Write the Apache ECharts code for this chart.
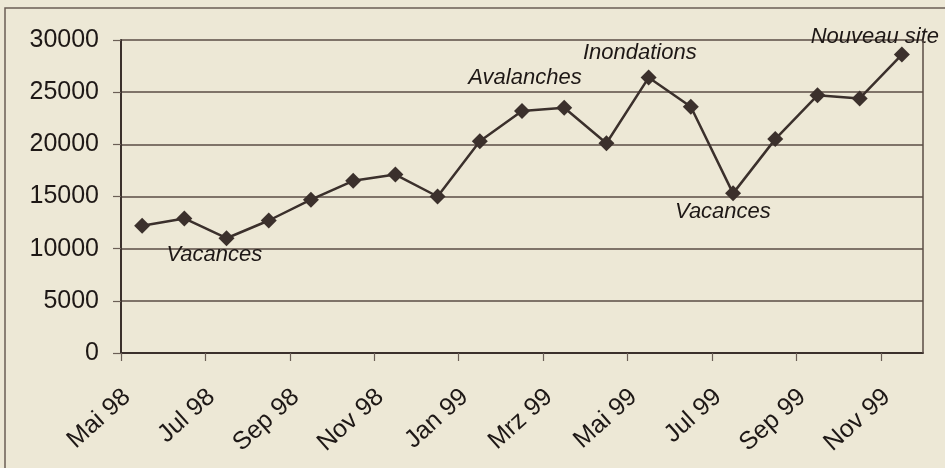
<!DOCTYPE html>
<html>
<head>
<meta charset="utf-8">
<style>
  html, body { margin: 0; padding: 0; background: #ede8d6; }
  #chart { width: 945px; height: 468px; }
</style>
<script src="https://cdn.jsdelivr.net/npm/echarts@6/dist/echarts.min.js"></script>
</head>
<body>
<div id="chart"></div>
<script>
// months from Mai 98 to Nov 99, one tick label every two months
const tickLabels = ["Mai 98", "Jul 98", "Sep 98", "Nov 98", "Jan 99",
  "Mrz 99", "Mai 99", "Jul 99", "Sep 99", "Nov 99"];
const visits = [12200, 12900, 11000, 12700, 14700, 16500, 17100, 15000, 20300,
  23200, 23500, 20100, 26400, 23600, 15300, 20500, 24700, 24400, 28600];

const noteText = ["Vacances", "Avalanches", "Inondations", "Vacances", "Nouveau site"];
const noteMonth = [2.21, 9.57, 12.29, 14.26, 17.86];
const noteValue = [9400, 26400, 28750, 13500, 30300];

const ink = "#3b302c";
const font = "'Liberation Sans', Arial, sans-serif";

const chart = echarts.init(document.getElementById("chart"));

function setOptions(options) {
  chart.clear();
  chart.setOption(options);
}

setOptions({
  backgroundColor: "#ede8d6",
  animation: false,
  graphic: [{
    type: "polyline",
    shape: { points: [[5, 470], [5, 8], [950, 8]] },
    style: { stroke: "#6b5e55", lineWidth: 1.5, fill: null }
  }],
  grid: { left: 121, right: 22, top: 40, bottom: 115 },
  xAxis: {
    type: "value",
    min: 0,
    max: visits.length,
    interval: 2,
    axisLine: { show: true, lineStyle: { color: ink, width: 2 } },
    axisTick: { show: true, length: 8, lineStyle: { color: "#6b5e55", width: 1.2 } },
    splitLine: { show: false },
    axisLabel: {
      rotate: 42,
      margin: 46,
      padding: [0, -8, 0, 0],
      fontFamily: font,
      fontSize: 25,
      color: "#1e1816",
      showMaxLabel: false,
      formatter: v => (v % 2 === 0 ? tickLabels[v / 2] || "" : "")
    }
  },
  yAxis: {
    type: "value",
    min: 0,
    max: 30000,
    interval: 5000,
    axisLine: { show: true, lineStyle: { color: ink, width: 2 } },
    axisTick: { show: true, inside: false, length: 8, lineStyle: { color: "#6b5e55", width: 1.2 } },
    splitLine: { show: true, lineStyle: { color: "#5a4c44", width: 1.5 } },
    axisLabel: {
      margin: 22,
      fontFamily: font,
      fontSize: 25,
      color: "#1e1816",
      formatter: v => String(v)
    }
  },
  series: [
    {
      type: "line",
      data: visits.map((v, i) => [i + 0.5, v]),
      symbol: "diamond",
      symbolSize: 16,
      itemStyle: { color: ink },
      lineStyle: { color: ink, width: 2.5 }
    },
    {
      // a rule line on the right border of the frame
      type: "line",
      data: [[visits.length, 0], [visits.length, 30000]],
      symbol: "none",
      lineStyle: { color: "#5a4c44", width: 1.5 },
      silent: true
    },
    {
      type: "scatter",
      clip: false,
      symbolSize: 0,
      itemStyle: { opacity: 1 },
      data: noteText.map((t, i) => ({ value: [noteMonth[i], noteValue[i]], name: t })),
      label: {
        show: true,
        position: "inside",
        formatter: p => p.name,
        fontFamily: font,
        fontStyle: "italic",
        fontSize: 22,
        color: "#1e1816",
        opacity: 1
      }
    }
  ]
});
</script>
</body>
</html>
